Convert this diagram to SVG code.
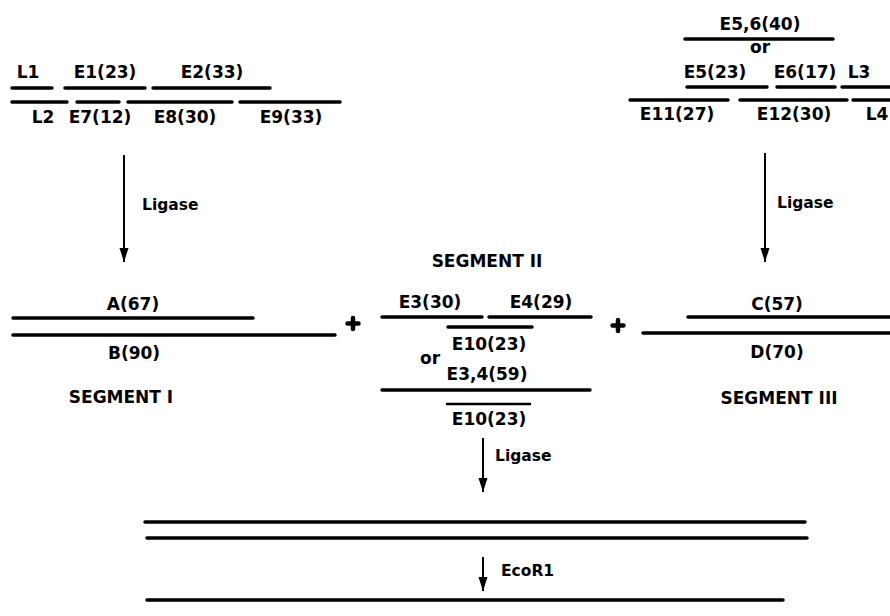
<svg xmlns="http://www.w3.org/2000/svg" width="890" height="616" viewBox="0 0 890 616">
<defs>
<marker id="ah" markerUnits="userSpaceOnUse" markerWidth="16" markerHeight="12" refX="14" refY="5" orient="auto" viewBox="0 0 16 10">
<path d="M0,0.5 L14,5 L0,9.5 Z" fill="#000"/>
</marker>
<style>
.s{stroke:#000;stroke-width:3.5;stroke-linecap:round;fill:none}
.t{stroke:#000;stroke-width:2.5;stroke-linecap:round;fill:none}
.a{stroke:#000;stroke-width:2;fill:none}
.p{stroke:#000;stroke-width:4.5;stroke-linecap:round;fill:none}
text{font-family:"DejaVu Sans","Liberation Sans",sans-serif;font-weight:bold;font-size:17px;fill:#000}
.m{text-anchor:middle}
.sm{font-size:15.5px}
</style>
</defs>
<rect width="890" height="616" fill="#fff"/>

<g id="seg1-oligos">
<text class="m" x="28" y="78">L1</text>
<text class="m" x="105" y="78">E1(23)</text>
<text class="m" x="212" y="78">E2(33)</text>
<line class="s" x1="12" y1="88" x2="52" y2="88"/>
<line class="s" x1="65" y1="88" x2="145" y2="88"/>
<line class="s" x1="153" y1="88" x2="270" y2="88"/>
<line class="s" x1="12" y1="102" x2="67" y2="102"/>
<line class="s" x1="77" y1="102" x2="119" y2="102"/>
<line class="s" x1="128" y1="102" x2="232" y2="102"/>
<line class="s" x1="240" y1="102" x2="340" y2="102"/>
<text class="m" x="43" y="123">L2</text>
<text class="m" x="100" y="123">E7(12)</text>
<text class="m" x="185" y="123">E8(30)</text>
<text class="m" x="291" y="123">E9(33)</text>
</g>

<g id="seg3-oligos">
<text class="m" x="760" y="30">E5,6(40)</text>
<line class="s" x1="685" y1="39" x2="833" y2="39"/>
<text class="m" x="760" y="53">or</text>
<text class="m" x="715" y="78">E5(23)</text>
<text class="m" x="805" y="78">E6(17)</text>
<text class="m" x="859" y="78">L3</text>
<line class="s" x1="687" y1="87" x2="767" y2="87"/>
<line class="s" x1="777" y1="87" x2="835" y2="87"/>
<line class="s" x1="842" y1="87" x2="892" y2="87"/>
<line class="s" x1="630" y1="100" x2="728" y2="100"/>
<line class="s" x1="740" y1="100" x2="847" y2="100"/>
<line class="s" x1="853" y1="100" x2="892" y2="100"/>
<text class="m" x="677" y="120">E11(27)</text>
<text class="m" x="794" y="120">E12(30)</text>
<text class="m" x="877" y="120">L4</text>
</g>

<g id="segment1">
<text class="m" x="133" y="310">A(67)</text>
<line class="s" x1="13" y1="318" x2="253" y2="318"/>
<line class="s" x1="13" y1="335" x2="335" y2="335"/>
<text class="m" x="134" y="359">B(90)</text>
<text class="m" x="121" y="403">SEGMENT I</text>
</g>

<g id="plus1">
<path class="p" d="M353,318 V329 M347.5,323.5 H358.5"/>
</g>

<g id="segment2">
<text class="m" x="487" y="267">SEGMENT II</text>
<text class="m" x="430" y="308">E3(30)</text>
<text class="m" x="541" y="308">E4(29)</text>
<line class="s" x1="382" y1="317" x2="482" y2="317"/>
<line class="s" x1="489" y1="317" x2="591" y2="317"/>
<line class="s" x1="448" y1="327" x2="532" y2="327"/>
<text class="m" x="489" y="350">E10(23)</text>
<text class="m" x="430" y="364">or</text>
<text class="m" x="487" y="380">E3,4(59)</text>
<line class="s" x1="382" y1="390" x2="590" y2="390"/>
<line class="t" x1="447" y1="404" x2="530" y2="404"/>
<text class="m" x="489" y="425">E10(23)</text>
</g>

<g id="plus2">
<path class="p" d="M618,320 V331 M612.5,325.5 H623.5"/>
</g>

<g id="segment3">
<text class="m" x="777" y="310">C(57)</text>
<line class="s" x1="688" y1="317" x2="892" y2="317"/>
<line class="s" x1="643" y1="333" x2="892" y2="333"/>
<text class="m" x="777" y="358">D(70)</text>
<text class="m" x="779" y="404">SEGMENT III</text>
</g>

<g id="ligated">
<line class="s" x1="145" y1="522" x2="805" y2="522"/>
<line class="s" x1="147" y1="538" x2="807" y2="538"/>
</g>

<g id="product">
<line class="s" x1="147" y1="600" x2="783" y2="600"/>
</g>

<g id="connectors">
<line class="a" x1="124" y1="155" x2="124" y2="262" marker-end="url(#ah)"/>
<text class="sm" x="142" y="210">Ligase</text>
<line class="a" x1="765" y1="153" x2="765" y2="262" marker-end="url(#ah)"/>
<text class="sm" x="777" y="208">Ligase</text>
<line class="a" x1="483" y1="438" x2="483" y2="492" marker-end="url(#ah)"/>
<text class="sm" x="495" y="461">Ligase</text>
<line class="a" x1="483" y1="557" x2="483" y2="591" marker-end="url(#ah)"/>
<text class="sm" x="501" y="576">EcoR1</text>
</g>
</svg>
